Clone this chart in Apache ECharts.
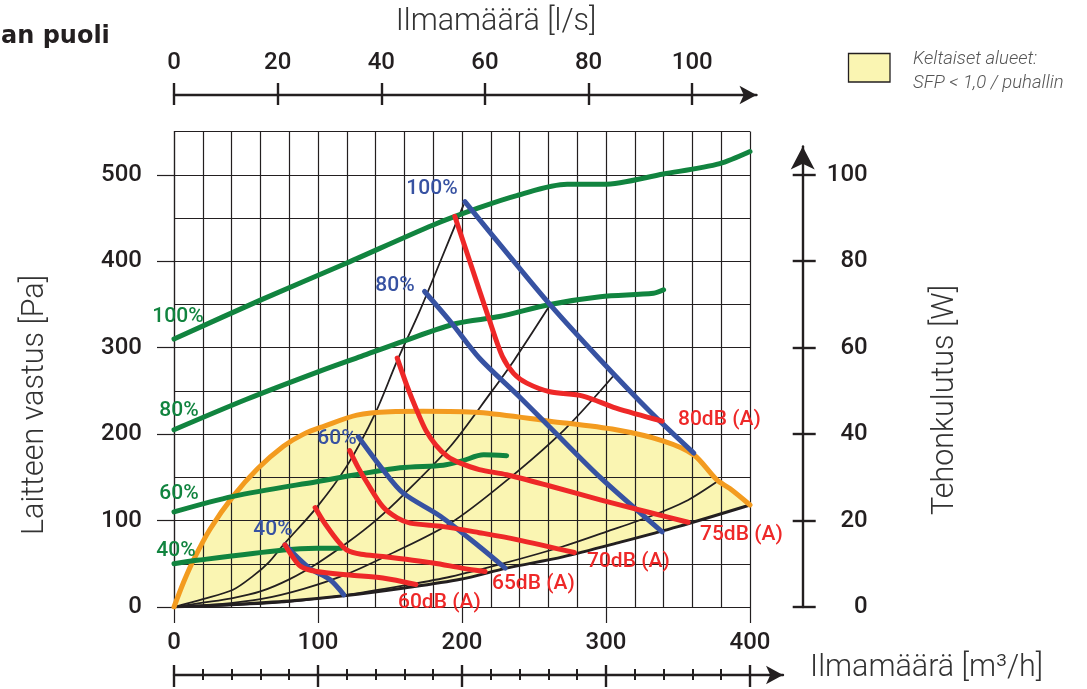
<!DOCTYPE html>
<html><head><meta charset="utf-8">
<script src="https://cdn.jsdelivr.net/npm/echarts@6/dist/echarts.min.js"></script>
<style>html,body{margin:0;padding:0;background:#fff}#c{width:1087px;height:689px}</style>
</head><body><div id="c"></div><script>
// ---- tick values ----
const flowTicksMajor = [0, 100, 200, 300, 400];
const flowTicksMinor = [20, 40, 60, 80, 120, 140, 160, 180, 220, 240, 260, 280, 320, 340, 360, 380];
const lsTicks = [0, 20, 40, 60, 80, 100];
const paTicks = [0, 100, 200, 300, 400, 500];
const wTicks = [0, 20, 40, 60, 80, 100];

// ---- fan speed curves (green), [m3/h, Pa] ----
const green100 = [[0,310],[60,355],[120,398],[180,442],[212,462],[238,476],[273,489],[298,489],[340,501],[379,513],[400,527]];
const green80 = [[0,205],[50,240],[100,272],[130,290],[160,308],[196,328],[226,336],[261,350],[296,359],[333,363],[340,367]];
const green60 = [[0,110],[41,128],[99,145],[157,161],[187,164],[200,169],[215,176],[231,175]];
const green40 = [[0,50],[16,54],[76,66],[99,68],[116,68]];

// ---- SFP boundary (orange) ----
const sfpLimit = [[0,0],[7,30],[14,56],[25,90],[41,128],[58,160],[76,186],[90,200],[104,209],[127,222],[150,226],[173,226.5],[212,225],[261,215],[307,205],[340,192],[361,176],[377,147],[386,137],[400,118]];

// ---- system curves (black) ----
const sysA = [[0,0],[20,9],[41,20],[55,36],[66,52],[76,72],[99,115],[120,163],[140,225],[155,285],[170,340],[185,400],[201,465]];
const sysB = [[0,0],[20,5],[40,10],[60,18],[80,32],[100,51],[120,74],[140,100],[160,131],[192,186],[220,248],[236,285],[261,349]];
const sysC = [[0,0],[30,3],[60,9],[90,21],[120,38],[150,61],[192,97],[230,145],[271,205],[306,269]];
const sysD = [[0,0],[40,2],[80,6],[120,14],[160,25],[192,35],[230,51],[270,70],[300,87],[331,105],[355,122],[377,145]];
const sysE = [[0,0],[40,3],[80,7],[118,13],[160,22],[199,32],[231,45],[270,58],[310,75],[350,93],[400,118]];

// ---- control % lines (blue) ----
const blue100 = [[202,469],[230,412],[261,350],[296,286],[330,227],[361,178]];
const blue80 = [[174,365],[193,328],[212,288],[240,243],[261,208],[296,150],[339,87]];
const blue60 = [[128,197],[145,159],[159,132],[185,105],[212,70],[230,45]];
const blue40 = [[77,72],[94,45],[108,32],[118,14]];

// ---- sound level lines (red) ----
const red80 = [[195,452],[207,392],[219,332],[228,290],[236,270],[245,259],[261,249],[284,244],[307,230],[339,215]];
const red75 = [[155,288],[162,255],[168.5,228],[175,204],[182,187],[190,174],[198,167],[212,159],[231,153],[261,140],[296,124],[331,109],[357,98]];
const red70 = [[122,181],[128,161],[134,144],[145,116],[155,103],[164,97],[187,93],[212,86],[238,78],[278,63]];
const red65 = [[98,115],[103,101],[108,89],[114,76],[120,66],[130,61],[145,58.5],[180,51],[200,45],[216,41]];
const red60 = [[77,72],[82,59],[88,47],[99,41],[122,37],[145,33.5],[168,26]];

const greenLabels = ['100%', '80%', '60%', '40%'];
const blueLabels = ['100%', '80%', '60%', '40%'];
const redLabels = ['80dB (A)', '75dB (A)', '70dB (A)', '65dB (A)', '60dB (A)'];

const C_GREEN = '#11843f', C_BLUE = '#3752a2', C_RED = '#ee2828', C_ORANGE = '#f39b1f', C_YELLOW = '#faf5b2', C_INK = '#231f20';
const FONT = 'Roboto';

function line(data, color, width, z) {
  return { type: 'line', data: data, smooth: 0.3, symbol: 'none', showSymbol: false,
    lineStyle: { color: color, width: width, cap: 'round', join: 'round' }, z: z, silent: true, animation: false };
}

const tickLbl = { fontFamily: FONT, fontSize: 24, fontWeight: 500, color: C_INK };
const inkLine = (w) => ({ color: C_INK, width: w });

const option = {
  animation: false,
  grid: [
    { left: 174, right: 337, top: 131.6, bottom: 82 },      // 0 main
    { left: 174, right: 304, top: 300, bottom: 14 },        // 1 bottom m3/h axis
    { left: 174, right: 330.5, top: 95, bottom: 300 },      // 2 top l/s axis
    { left: 174, right: 284.3, top: 146.5, bottom: 82 }     // 3 right W axis
  ],
  xAxis: [
    { gridIndex: 0, type: 'value', min: 0, max: 400, interval: 20, position: 'bottom', z: 1.5,
      axisLine: { show: true, onZero: false, lineStyle: inkLine(1.2) }, axisTick: { show: false }, axisLabel: { show: false },
      splitLine: { show: true, lineStyle: inkLine(1.2) } },
    { gridIndex: 0, type: 'value', min: 0, max: 400, interval: 100, position: 'bottom',
      axisLine: { show: false, onZero: false }, axisTick: { show: true, customValues: flowTicksMajor, length: 16, lineStyle: inkLine(1.2) },
      axisLabel: Object.assign({ show: true, customValues: flowTicksMajor, margin: 24 }, tickLbl), splitLine: { show: false } },
    { gridIndex: 1, type: 'value', min: 0, max: 422.9, position: 'bottom',
      axisLine: { show: true, onZero: false, symbol: ['none', 'arrow'], symbolSize: [14, 17], lineStyle: inkLine(2.4) },
      axisTick: { show: true, customValues: flowTicksMajor, length: 12, lineStyle: inkLine(2.4) }, axisLabel: { show: false }, splitLine: { show: false } },
    { gridIndex: 1, type: 'value', min: 0, max: 422.9, position: 'bottom',
      axisLine: { show: false, onZero: false }, axisTick: { show: true, inside: true, customValues: flowTicksMajor, length: 10, lineStyle: inkLine(2.4) },
      axisLabel: { show: false }, splitLine: { show: false } },
    { gridIndex: 1, type: 'value', min: 0, max: 422.9, position: 'bottom',
      axisLine: { show: false, onZero: false }, axisTick: { show: true, customValues: flowTicksMinor, length: 5, lineStyle: inkLine(2) },
      axisLabel: { show: false }, splitLine: { show: false } },
    { gridIndex: 1, type: 'value', min: 0, max: 422.9, position: 'bottom',
      axisLine: { show: false, onZero: false }, axisTick: { show: true, inside: true, customValues: flowTicksMinor, length: 6, lineStyle: inkLine(2) },
      axisLabel: { show: false }, splitLine: { show: false } },
    { gridIndex: 2, type: 'value', min: 0, max: 112.4, position: 'top',
      axisLine: { show: true, onZero: false, symbol: ['none', 'arrow'], symbolSize: [14, 17], lineStyle: inkLine(2.4) },
      axisTick: { show: true, customValues: lsTicks, length: 12, lineStyle: inkLine(2.4) },
      axisLabel: Object.assign({ show: true, customValues: lsTicks, margin: 20 }, tickLbl), splitLine: { show: false } },
    { gridIndex: 2, type: 'value', min: 0, max: 112.4, position: 'top',
      axisLine: { show: false, onZero: false }, axisTick: { show: true, inside: true, customValues: lsTicks, length: 10, lineStyle: inkLine(2.4) },
      axisLabel: { show: false }, splitLine: { show: false } },
    { gridIndex: 3, type: 'value', show: false, min: 0, max: 1 }
  ],
  yAxis: [
    { gridIndex: 0, type: 'value', min: 0, max: 550, interval: 50, position: 'left', z: 1.5,
      axisLine: { show: true, onZero: false, lineStyle: inkLine(1.2) }, axisTick: { show: false }, axisLabel: { show: false },
      splitLine: { show: true, lineStyle: inkLine(1.2) } },
    { gridIndex: 0, type: 'value', min: 0, max: 550, interval: 100, position: 'left',
      axisLine: { show: false, onZero: false }, axisTick: { show: true, customValues: paTicks, length: 17, lineStyle: inkLine(1.2) },
      axisLabel: Object.assign({ show: true, customValues: paTicks, margin: 32 }, tickLbl), splitLine: { show: false } },
    { gridIndex: 3, type: 'value', min: 0, max: 106.55, position: 'right',
      axisLine: { show: true, onZero: false, symbol: ['none', 'arrow'], symbolSize: [18, 23], lineStyle: inkLine(2.4) },
      axisTick: { show: true, customValues: wTicks, length: 13, lineStyle: inkLine(2.4) },
      axisLabel: Object.assign({ show: true, customValues: wTicks, margin: 65, align: 'right' }, tickLbl), splitLine: { show: false } },
    { gridIndex: 3, type: 'value', min: 0, max: 106.55, position: 'right',
      axisLine: { show: false, onZero: false }, axisTick: { show: true, inside: true, customValues: wTicks, length: 10, lineStyle: inkLine(2.4) },
      axisLabel: { show: false }, splitLine: { show: false } },
    { gridIndex: 1, type: 'value', show: false, min: 0, max: 1 },
    { gridIndex: 2, type: 'value', show: false, min: 0, max: 1 }
  ],
  series: [
    { type: 'custom', xAxisIndex: 0, yAxisIndex: 0, z: 1, silent: true, data: [[0, 0]],
      renderItem: function (params, api) {
        const pts = sfpLimit.map(p => api.coord(p)).concat(sysE.slice().reverse().map(p => api.coord(p)));
        return { type: 'polygon', shape: { points: pts }, style: { fill: C_YELLOW } };
      } },
    line(sysA, C_INK, 1.8, 3), line(sysB, C_INK, 1.8, 3), line(sysC, C_INK, 1.8, 3), line(sysD, C_INK, 1.8, 3), line(sysE, C_INK, 3, 3),
    line(sfpLimit, C_ORANGE, 5, 4),
    line(green100, C_GREEN, 5, 5), line(green80, C_GREEN, 5, 5), line(green60, C_GREEN, 5, 5), line(green40, C_GREEN, 5, 5),
    line(blue100, C_BLUE, 5, 6), line(blue80, C_BLUE, 5, 6), line(blue60, C_BLUE, 5, 6), line(blue40, C_BLUE, 5, 6),
    line(red80, C_RED, 5, 7), line(red75, C_RED, 5, 7), line(red70, C_RED, 5, 7), line(red65, C_RED, 5, 7), line(red60, C_RED, 5, 7)
  ],
  graphic: []
};

function txt(text, x, y, style, rot) {
  return { type: 'text', x: x, y: y, rotation: rot || 0, z: 100, silent: true,
    style: Object.assign({ text: text, textAlign: 'center', textVerticalAlign: 'middle', fontFamily: FONT }, style) };
}
const lblStyle = (c) => ({ fill: c, fontSize: 21, fontWeight: 500 });
const g = option.graphic;
// titles
g.push(txt('an puoli', 1, 37, { textAlign: 'left', fontFamily: 'DejaVu Sans', fontWeight: 'bold', fontSize: 24, fill: C_INK }));
g.push(txt('Ilmamäärä [l/s]', 496, 22, { fontSize: 30.5, fontWeight: 300, fill: '#333' }));
g.push(txt('Laitteen vastus [Pa]', 35, 405, { fontSize: 30.5, fontWeight: 300, fill: '#333' }, Math.PI / 2));
g.push(txt('Tehonkulutus [W]', 945, 400, { fontSize: 30.5, fontWeight: 300, fill: '#333' }, Math.PI / 2));
g.push(txt('Ilmamäärä [m³/h]', 810, 668, { textAlign: 'left', fontSize: 30.5, fontWeight: 300, fill: '#333' }));
// legend
g.push({ type: 'rect', shape: { x: 848.5, y: 53.5, width: 41.5, height: 28.5 }, style: { fill: C_YELLOW, stroke: C_INK, lineWidth: 1.3 }, z: 100 });
g.push(txt('Keltaiset alueet:', 913, 59, { textAlign: 'left', fontSize: 18.5, fontStyle: 'italic', fontWeight: 300, fill: '#555' }));
g.push(txt('SFP < 1,0 / puhallin', 913, 83, { textAlign: 'left', fontSize: 18.5, fontStyle: 'italic', fontWeight: 300, fill: '#555' }));
// green labels
[[178, 317], [179, 411], [179, 494], [176, 551]].forEach((p, i) => g.push(txt(greenLabels[i], p[0], p[1], lblStyle(C_GREEN))));
// blue labels
[[432, 189], [395, 286], [337, 439], [273, 530]].forEach((p, i) => g.push(txt(blueLabels[i], p[0], p[1], lblStyle(C_BLUE))));
// red labels (left aligned)
[[678, 420], [700, 535], [587, 562], [492, 584], [398, 603]].forEach((p, i) => g.push(txt(redLabels[i], p[0], p[1], Object.assign(lblStyle(C_RED), { textAlign: 'left', fontSize: 21 }))));

const chart = echarts.init(document.getElementById('c'), null, { renderer: 'canvas' });
chart.setOption(option);
</script></body></html>
